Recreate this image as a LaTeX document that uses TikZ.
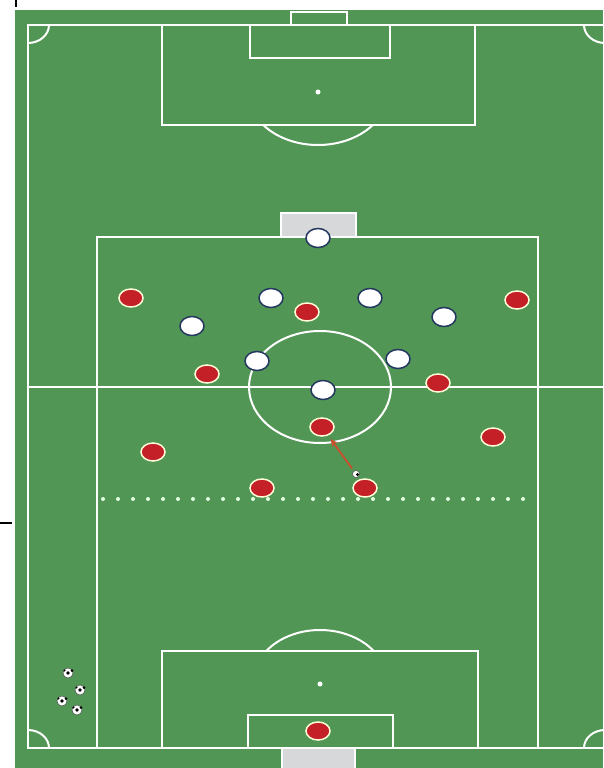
\documentclass[tikz,border=0pt]{standalone}
\usetikzlibrary{shapes.geometric,arrows.meta}

\definecolor{pitch}{RGB}{82,150,86}
\definecolor{redteam}{RGB}{196,32,40}
\definecolor{blueline}{RGB}{35,55,95}
\definecolor{arrowred}{RGB}{200,80,45}
\definecolor{goalgrey}{RGB}{214,216,218}

\tikzset{
	line/.style={white, line width=2pt},
	red player/.style={ellipse, fill=redteam, draw=white!85!yellow, line width=1.5pt,
		minimum width=24pt, minimum height=18pt, inner sep=0pt},
	white player/.style={ellipse, fill=white, draw=blueline, line width=1.5pt,
		minimum width=24pt, minimum height=19pt, inner sep=0pt},
	ball/.style={circle, fill=white, draw=black!70, line width=0.5pt, minimum size=10pt, inner sep=0pt}
}

\begin{document}
\begin{tikzpicture}[x=1pt, y=-1pt]
		\useasboundingbox (0,0) rectangle (603,768);
		\fill[white] (0,0) rectangle (603,768);
		\fill[pitch] (15,10) rectangle (603,768);
		
		% marks left by the scan
		\draw[black, line width=2pt] (16,0) -- (16,7);
		\draw[black, line width=1.5pt] (0,523) -- (12,523);
		
		% outer lines and halfway line
		\draw[line] (603,25) -- (28,25) -- (28,748) -- (603,748);
		\draw[line] (28,387) -- (603,387);
		\draw[line] (320,387) ellipse [x radius=71, y radius=56];
		
		% corner arcs
		\begin{scope}
			\clip (28,25) rectangle (605,748);
			\foreach \cx/\cy in {28/25, 28/748, 605/25, 605/748}
			\draw[line] (\cx,\cy) ellipse [x radius=21, y radius=18];
		\end{scope}
		
		% top end
		\draw[line] (162,25) rectangle (475,125);
		\draw[line] (250,25) rectangle (390,58);
		\draw[line] (291,25) -- (291,12) -- (347,12) -- (347,25);
		\fill[white] (318,92) circle (2.5);
		\begin{scope}
			\clip (0,125) rectangle (603,200);
			\draw[line] (318,92) ellipse [x radius=70, y radius=53];
		\end{scope}
		
		% bottom end
		\draw[line] (162,651) rectangle (478,748);
		\draw[line] (248,715) rectangle (393,748);
		\filldraw[fill=goalgrey, draw=white, line width=2pt] (282,748) rectangle (355,770);
		\fill[white] (320,684) circle (2.5);
		\begin{scope}
			\clip (0,600) rectangle (603,651);
			\draw[line] (320,684) ellipse [x radius=68, y radius=54];
		\end{scope}
		
		% training area
		\draw[line] (97,748) -- (97,237) -- (538,237) -- (538,748);
		\filldraw[fill=goalgrey, draw=white, line width=1.5pt] (281,213) rectangle (356,237);
		\foreach \x in {103,118,...,530}
		\fill[green!12!white] (\x,499) circle (2);
		
		% players
		\foreach \px/\py [count=\i] in {131/298, 307/312, 517/300, 207/374, 438/383,
			322/427, 153/452, 493/437, 262/488, 365/488, 318/731}
		\node[red player] (r\i) at (\px,\py) {};
		\foreach \px/\py [count=\i] in {318/238, 271/298, 370/298, 192/326,
			444/317, 257/361, 398/359, 323/390}
		\node[white player] (w\i) at (\px,\py) {};
		
		% ball played forward
		\node[ball, minimum size=7pt] (kick) at (356,474) {};
		\fill[black] (kick) ++(1.5,0.5) circle (1.6);
		\draw[arrowred, line width=1.8pt, -{Stealth[length=8pt, width=7pt]}, shorten >=4pt, shorten <=3pt]
			(kick) -- (r6);
		
		% spare balls
		\foreach \bx/\by [count=\i] in {68/673, 80/690, 62/701, 77/710}
		{
			\node[ball] (b\i) at (\bx,\by) {};
			\fill[black] (b\i) circle (1.8);
			\fill[black] (b\i) ++(4,-2.5) circle (1.5);
			\fill[black] (b\i) ++(-3.5,-2.5) circle (1.2);
		}
		
	\end{tikzpicture}
\end{document}
